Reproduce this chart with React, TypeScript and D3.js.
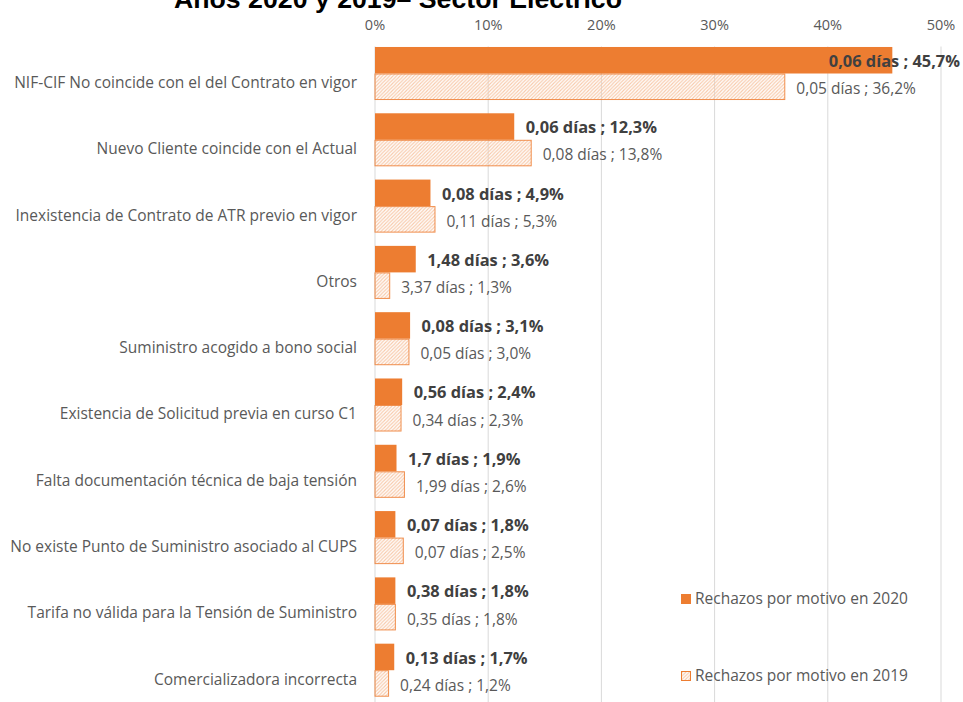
import React from "react";
import * as d3 from "d3";

const categories = [
  "NIF-CIF No coincide con el del Contrato en vigor",
  "Nuevo Cliente coincide con el Actual",
  "Inexistencia de Contrato de ATR previo en vigor",
  "Otros",
  "Suministro acogido a bono social",
  "Existencia de Solicitud previa en curso C1",
  "Falta documentación técnica de baja tensión",
  "No existe Punto de Suministro asociado al CUPS",
  "Tarifa no válida para la Tensión de Suministro",
  "Comercializadora incorrecta",
];
const pct2020 = [45.7, 12.3, 4.9, 3.6, 3.1, 2.4, 1.9, 1.8, 1.8, 1.7];
const days2020 = ["0,06", "0,06", "0,08", "1,48", "0,08", "0,56", "1,7", "0,07", "0,38", "0,13"];
const pct2019 = [36.2, 13.8, 5.3, 1.3, 3.0, 2.3, 2.6, 2.5, 1.8, 1.2];
const days2019 = ["0,05", "0,08", "0,11", "3,37", "0,05", "0,34", "1,99", "0,07", "0,35", "0,24"];
const xTicks = [0, 10, 20, 30, 40, 50];
const series = ["Rechazos por motivo en 2020", "Rechazos por motivo en 2019"];
const title = "Años 2020 y 2019– Sector Eléctrico";

const W = 963;
const H = 702;
const ORANGE = "#ED7D31";
const TXT = "#595959";
const LBL = "#404040";
const FONT = "'Open Sans', Lato, sans-serif";
const FS = 15.5;
const FSB = 16.4;

const fmt = (v: number) => v.toFixed(1).replace(".", ",");

export default function App() {
  const x = d3.scaleLinear().domain([0, 50]).range([375, 941]);
  const y = d3
    .scaleBand<string>()
    .domain(categories)
    .range([40.35, 703.35])
    .paddingInner(0.2)
    .paddingOuter(0.1);
  const bw = y.bandwidth() / 2;
  const rightLimit = 960;

  const labelX = (v: number, text: string, bold: boolean) => {
    const est = text.length * (bold ? 8.5 : 7.4);
    const start = x(v) + 11.5;
    if (start + est > rightLimit) return { x: rightLimit, anchor: "end" };
    return { x: start, anchor: "start" };
  };

  return (
    <svg
      width={W}
      height={H}
      style={{ position: "absolute", left: 0, top: 0, background: "#fff" }}
      fontFamily={FONT}
    >
      <defs>
        <pattern id="hatch" patternUnits="userSpaceOnUse" width="3.5" height="3.5">
          <path d="M-1,1 l2,-2 M0,3.5 l3.5,-3.5 M2.5,4.5 l2,-2" stroke="#F7C9AA" strokeWidth="1.1" />
        </pattern>
      </defs>
      <rect width={W} height={H} fill="#fff" />
      <text
        x={398}
        y={8}
        textAnchor="middle"
        fontFamily="'Liberation Sans', Arial, sans-serif"
        fontWeight="bold"
        fontSize={26.7}
        fill="#000"
      >
        {title}
      </text>
      {xTicks.map((t) => (
        <g key={t}>
          <line x1={x(t)} x2={x(t)} y1={46.5} y2={H} stroke="#D9D9D9" strokeWidth={1} />
          <text x={x(t)} y={25} dy="0.35em" textAnchor="middle" fontSize={FS - 1} fill={TXT}>
            {t}%
          </text>
        </g>
      ))}
      {categories.map((c, i) => {
        const y0 = y(c)!;
        const l1 = `${days2020[i]} días ; ${fmt(pct2020[i])}%`;
        const l2 = `${days2019[i]} días ; ${fmt(pct2019[i])}%`;
        const p1 = labelX(pct2020[i], l1, true);
        const p2 = labelX(pct2019[i], l2, false);
        return (
          <g key={c}>
            <text x={357} y={y0 + bw + 9} dy="0.35em" textAnchor="end" fontSize={FS} fill={TXT}>
              {c}
            </text>
            <rect x={x(0)} y={y0} width={x(pct2020[i]) - x(0)} height={bw} fill={ORANGE} />
            <rect
              x={x(0)}
              y={y0 + bw + 0.5}
              width={x(pct2019[i]) - x(0)}
              height={bw - 1}
              fill="url(#hatch)"
              stroke={ORANGE}
              strokeWidth={1}
              strokeOpacity={0.85}
            />
            <text
              x={p1.x}
              y={y0 + bw / 2 + 1}
              dy="0.35em"
              textAnchor={p1.anchor as any}
              fontSize={FSB}
              fontWeight="bold"
              fill={LBL}
            >
              {l1}
            </text>
            <text
              x={p2.x}
              y={y0 + bw * 1.5 + 2}
              dy="0.35em"
              textAnchor={p2.anchor as any}
              fontSize={FS}
              fill={TXT}
            >
              {l2}
            </text>
          </g>
        );
      })}
      <g>
        <rect x={681} y={594} width={10} height={10} fill={ORANGE} />
        <text x={695} y={599} dy="0.35em" fontSize={FS} fill={TXT}>
          {series[0]}
        </text>
        <rect x={681.5} y={671.5} width={9} height={9} fill="url(#hatch)" stroke={ORANGE} strokeWidth={1} />
        <text x={695} y={676} dy="0.35em" fontSize={FS} fill={TXT}>
          {series[1]}
        </text>
      </g>
    </svg>
  );
}
